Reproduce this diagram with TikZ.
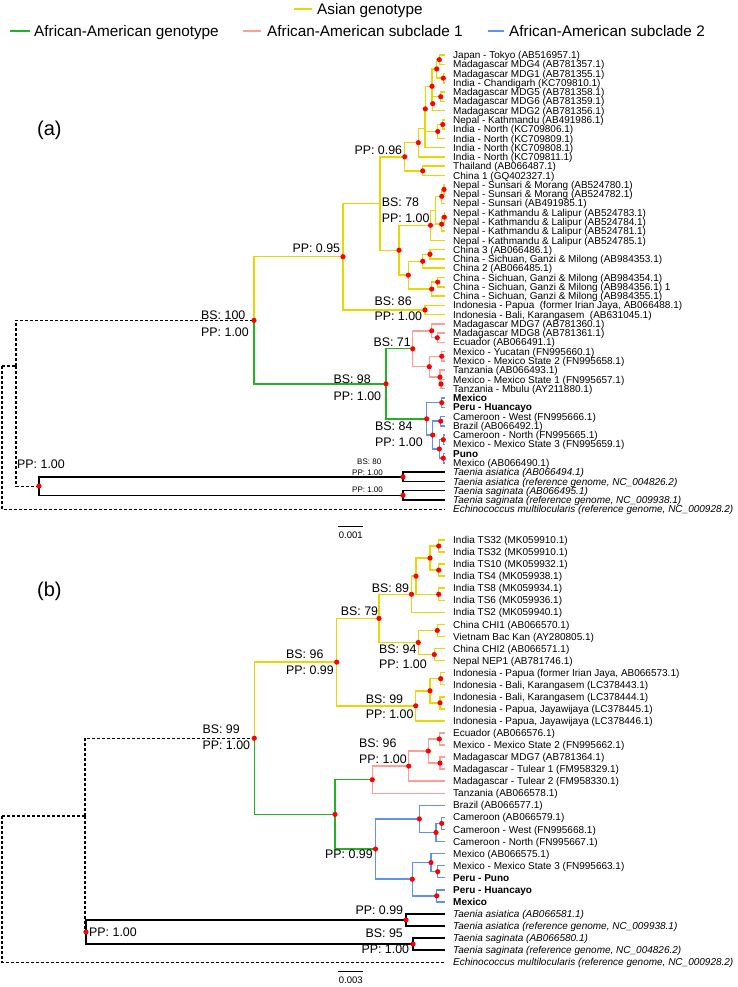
\documentclass[tikz,border=0pt]{standalone}
\usepackage{fontspec}
\setmainfont{Liberation Sans}
\definecolor{ycol}{RGB}{232,216,0}
\definecolor{gcol}{RGB}{34,178,34}
\definecolor{pcol}{RGB}{255,158,148}
\definecolor{bcol}{RGB}{95,145,240}
\newcommand\tipA[2]{\coordinate (ta#1) at (445,{ya(#1)}); \node[tiplab] (la#1) at (453,{ya(#1)}) {#2};}
\newcommand\tipB[2]{\coordinate (tb#1) at (445,{yb(#1)}); \node[tiplab] (lb#1) at (453,{yb(#1)}) {#2};}
\newcommand\nd[3]{\coordinate (#1) at (#2,{#3});}
\begin{document}
\begin{tikzpicture}[x=1pt,y=-1pt,
  declare function={ya(\i)=55+9.27*(\i-1); yb(\i)=540+12.06*(\i-1);},
  br/.style={line width=1.5pt},
  asia/.style={br,draw=ycol},
  afr/.style={br,draw=gcol},
  subA/.style={br,draw=pcol},
  subB/.style={br,draw=bcol},
  outg/.style={br,draw=black},
  dashedbr/.style={line width=1.1pt,draw=black,dash pattern=on 3pt off 2pt},
  tiplab/.style={anchor=west,inner sep=0pt,font=\fontsize{10}{12}\selectfont,text height=7.2pt,text depth=0pt},
  intlab/.style={anchor=west,inner sep=0pt,font=\fontsize{12.4}{14}\selectfont,text height=9pt,text depth=0pt},
  smlab/.style={anchor=west,inner sep=0pt,font=\fontsize{8}{9}\selectfont,text height=5.8pt,text depth=0pt},
  leglab/.style={anchor=west,inner sep=0pt,font=\fontsize{15.3}{17}\selectfont,text height=11pt,text depth=0pt},
  panlab/.style={anchor=west,inner sep=0pt,font=\fontsize{20}{22}\selectfont},
  sclab/.style={inner sep=0pt,font=\fontsize{9.5}{10}\selectfont},
  legline/.style={line width=2pt}]
\useasboundingbox (0,0) rectangle (737,987);
\fill[white] (0,0) rectangle (737,987);

% legend
\coordinate (ly1) at (294,9); \coordinate (ly2) at (312,9);
\draw[legline,ycol] (ly1) -- (ly2);
\node[leglab] (legA) at (317,9) {Asian genotype};
\coordinate (lg1) at (10,31); \coordinate (lg2) at (30,31);
\draw[legline,gcol] (lg1) -- (lg2);
\node[leglab] (legB) at (34,31) {African-American genotype};
\coordinate (lp1) at (243,31); \coordinate (lp2) at (261,31);
\draw[legline,pcol] (lp1) -- (lp2);
\node[leglab] (legC) at (267,31) {African-American subclade 1};
\coordinate (lb1) at (488,31); \coordinate (lb2) at (504,31);
\draw[legline,bcol] (lb1) -- (lb2);
\node[leglab] (legD) at (509,31) {African-American subclade 2};

\node[panlab] (pa) at (37,130) {(a)};
\node[panlab] (pb) at (37,591) {(b)};

% ================= panel (a) tips
\tipA{1}{Japan - Tokyo (AB516957.1)}
\tipA{2}{Madagascar MDG4 (AB781357.1)}
\tipA{3}{Madagascar MDG1 (AB781355.1)}
\tipA{4}{India - Chandigarh (KC709810.1)}
\tipA{5}{Madagascar MDG5 (AB781358.1)}
\tipA{6}{Madagascar MDG6 (AB781359.1)}
\tipA{7}{Madagascar MDG2 (AB781356.1)}
\tipA{8}{Nepal - Kathmandu (AB491986.1)}
\tipA{9}{India - North (KC709806.1)}
\tipA{10}{India - North (KC709809.1)}
\tipA{11}{India - North (KC709808.1)}
\tipA{12}{India - North (KC709811.1)}
\tipA{13}{Thailand (AB066487.1)}
\tipA{14}{China 1 (GQ402327.1)}
\tipA{15}{Nepal - Sunsari \& Morang (AB524780.1)}
\tipA{16}{Nepal - Sunsari \& Morang (AB524782.1)}
\tipA{17}{Nepal - Sunsari (AB491985.1)}
\tipA{18}{Nepal - Kathmandu \& Lalipur (AB524783.1)}
\tipA{19}{Nepal - Kathmandu \& Lalipur (AB524784.1)}
\tipA{20}{Nepal - Kathmandu \& Lalipur (AB524781.1)}
\tipA{21}{Nepal - Kathmandu \& Lalipur (AB524785.1)}
\tipA{22}{China 3 (AB066486.1)}
\tipA{23}{China - Sichuan, Ganzi \& Milong (AB984353.1)}
\tipA{24}{China 2 (AB066485.1)}
\tipA{25}{China - Sichuan, Ganzi \& Milong (AB984354.1)}
\tipA{26}{China - Sichuan, Ganzi \& Milong (AB984356.1) 1}
\tipA{27}{China - Sichuan, Ganzi \& Milong (AB984355.1)}
\tipA{28}{Indonesia - Papua\ \ (former Irian Jaya, AB066488.1)}
\tipA{29}{Indonesia - Bali, Karangasem\ \ (AB631045.1)}
\tipA{30}{Madagascar MDG7 (AB781360.1)}
\tipA{31}{Madagascar MDG8 (AB781361.1)}
\tipA{32}{Ecuador (AB066491.1)}
\tipA{33}{Mexico - Yucatan (FN995660.1)}
\tipA{34}{Mexico - Mexico State 2 (FN995658.1)}
\tipA{35}{Tanzania (AB066493.1)}
\tipA{36}{Mexico - Mexico State 1 (FN995657.1)}
\tipA{37}{Tanzania - Mbulu (AY211880.1)}
\tipA{38}{\textbf{Mexico}}
\tipA{39}{\textbf{Peru - Huancayo}}
\tipA{40}{Cameroon - West (FN995666.1)}
\tipA{41}{Brazil (AB066492.1)}
\tipA{42}{Cameroon - North (FN995665.1)}
\tipA{43}{Mexico - Mexico State 3 (FN995659.1)}
\tipA{44}{\textbf{Puno}}
\tipA{45}{Mexico (AB066490.1)}
\tipA{46}{\textit{Taenia asiatica (AB066494.1)}}
\tipA{47}{\textit{Taenia asiatica (reference genome, NC\_004826.2)}}
\tipA{48}{\textit{Taenia saginata (AB066495.1)}}
\tipA{49}{\textit{Taenia saginata (reference genome, NC\_009938.1)}}
\tipA{50}{\textit{Echinococcus multilocularis (reference genome, NC\_000928.2)}}

% panel (a) internal nodes
\nd{nA}{439.3}{ya(1.5)}
\nd{nC}{443.3}{ya(3.5)}
\nd{nB}{436.7}{ya(2.5)}
\nd{nD}{440.7}{ya(5.5)}
\nd{nE}{432.7}{ya(6.25)}
\nd{nF}{432}{ya(4.375)}
\nd{nG}{442.7}{ya(8.5)}
\nd{nH}{437.7}{ya(9.25)}
\nd{nI}{425.3}{ya(6.8125)}
\nd{nIb}{424.8}{ya(8.906)}
\nd{nJ}{418.3}{ya(10.453)}
\nd{nL}{422.7}{ya(13.5)}
\nd{nK}{404.7}{ya(11.977)}
\nd{nM}{444}{ya(15.5)}
\nd{nN}{441.7}{ya(16.25)}
\nd{nO}{444.3}{ya(18.5)}
\nd{nP}{441.7}{ya(19.25)}
\nd{nR}{435.5}{ya(17.75)}
\nd{nQ}{430.5}{ya(19.375)}
\nd{nS}{430}{ya(22.5)}
\nd{nT}{422.7}{ya(23.25)}
\nd{nU}{437.7}{ya(25.5)}
\nd{nV}{431.7}{ya(26.25)}
\nd{nW}{408.3}{ya(24.75)}
\nd{nY}{399}{ya(22.0625)}
\nd{nZ}{380}{ya(17.02)}
\nd{nAA}{425}{ya(28.5)}
\nd{nBB}{343}{ya(22.76)}
\nd{nTT}{254}{ya(29.63)}
\nd{nDD}{437.3}{ya(31.5)}
\nd{nCC}{431.7}{ya(30.75)}
\nd{nEE}{441.7}{ya(33.5)}
\nd{nGG}{441}{ya(36.5)}
\nd{nFF}{440}{ya(35.75)}
\nd{nHH}{429.3}{ya(34.625)}
\nd{nII}{412.7}{ya(32.6875)}
\nd{nJJ}{441.7}{ya(38.5)}
\nd{nKK}{440.7}{ya(40.5)}
\nd{nLL}{443.3}{ya(42.5)}
\nd{nRR}{443.3}{ya(44.5)}
\nd{nQQ}{439.3}{ya(43.5)}
\nd{nPP}{432.7}{ya(42)}
\nd{nOO}{426.7}{ya(40.25)}
\nd{nSS}{386}{ya(36.47)}
\nd{nXX}{403}{ya(46.5)}
\nd{nYY}{403}{ya(48.5)}
\nd{nUU}{39}{ya(47.5)}
\nd{nVV}{16}{366}
\nd{nRT}{2}{366}

% asian clade (a)
\draw[asia] (nA) |- (ta1); \draw[asia] (nA) |- (ta2);
\draw[asia] (nC) |- (ta3); \draw[asia] (nC) |- (ta4);
\draw[asia] (nB) |- (nA); \draw[asia] (nB) |- (nC);
\draw[asia] (nD) |- (ta5); \draw[asia] (nD) |- (ta6);
\draw[asia] (nE) |- (nD); \draw[asia] (nE) |- (ta7);
\draw[asia] (nF) |- (nB); \draw[asia] (nF) |- (nE);
\draw[asia] (nG) |- (ta8); \draw[asia] (nG) |- (ta9);
\draw[asia] (nH) |- (nG); \draw[asia] (nH) |- (ta10);
\draw[asia] (nI) |- (nF); \draw[asia] (nI) |- (nH);
\draw[asia] (nIb) |- (nI); \draw[asia] (nIb) |- (ta11);
\draw[asia] (nJ) |- (nIb); \draw[asia] (nJ) |- (ta12);
\draw[asia] (nL) |- (ta13); \draw[asia] (nL) |- (ta14);
\draw[asia] (nK) |- (nJ); \draw[asia] (nK) |- (nL);
\draw[asia] (nM) |- (ta15); \draw[asia] (nM) |- (ta16);
\draw[asia] (nN) |- (nM); \draw[asia] (nN) |- (ta17);
\draw[asia] (nO) |- (ta18); \draw[asia] (nO) |- (ta19);
\draw[asia] (nP) |- (nO); \draw[asia] (nP) |- (ta20);
\draw[asia] (nR) |- (nN); \draw[asia] (nR) |- (nP);
\draw[asia] (nQ) |- (nR); \draw[asia] (nQ) |- (ta21);
\draw[asia] (nS) |- (ta22); \draw[asia] (nS) |- (ta23);
\draw[asia] (nT) |- (nS); \draw[asia] (nT) |- (ta24);
\draw[asia] (nU) |- (ta25); \draw[asia] (nU) |- (ta26);
\draw[asia] (nV) |- (nU); \draw[asia] (nV) |- (ta27);
\draw[asia] (nW) |- (nT); \draw[asia] (nW) |- (nV);
\draw[asia] (nY) |- (nQ); \draw[asia] (nY) |- (nW);
\draw[asia] (nZ) |- (nK); \draw[asia] (nZ) |- (nY);
\draw[asia] (nAA) |- (ta28); \draw[asia] (nAA) |- (ta29);
\draw[asia] (nBB) |- (nZ); \draw[asia] (nBB) |- (nAA);
\draw[asia] (nTT) |- (nBB);
% african-american (a)
\draw[afr] (nTT) |- (nSS);
\draw[afr] (nSS) |- (nII); \draw[afr] (nSS) |- (nOO);
\draw[subA] (nDD) |- (ta31); \draw[subA] (nDD) |- (ta32);
\draw[subA] (nCC) |- (ta30); \draw[subA] (nCC) |- (nDD);
\draw[subA] (nEE) |- (ta33); \draw[subA] (nEE) |- (ta34);
\draw[subA] (nGG) |- (ta36); \draw[subA] (nGG) |- (ta37);
\draw[subA] (nFF) |- (ta35); \draw[subA] (nFF) |- (nGG);
\draw[subA] (nHH) |- (nEE); \draw[subA] (nHH) |- (nFF);
\draw[subA] (nII) |- (nCC); \draw[subA] (nII) |- (nHH);
\draw[subB] (nJJ) |- (ta38); \draw[subB] (nJJ) |- (ta39);
\draw[subB] (nKK) |- (ta40); \draw[subB] (nKK) |- (ta41);
\draw[subB] (nLL) |- (ta42); \draw[subB] (nLL) |- (ta43);
\draw[subB] (nRR) |- (ta44); \draw[subB] (nRR) |- (ta45);
\draw[subB] (nQQ) |- (nLL); \draw[subB] (nQQ) |- (nRR);
\draw[subB] (nPP) |- (nKK); \draw[subB] (nPP) |- (nQQ);
\draw[subB] (nOO) |- (nJJ); \draw[subB] (nOO) |- (nPP);
% outgroups (a)
\draw[outg] (nXX) |- (ta46); \draw[outg] (nXX) |- (ta47);
\draw[outg] (nYY) |- (ta48); \draw[outg] (nYY) |- (ta49);
\draw[outg] (nUU) |- (nXX); \draw[outg] (nUU) |- (nYY);
\draw[dashedbr] (nVV) |- (nTT); \draw[dashedbr] (nVV) |- (nUU);
\draw[dashedbr] (nRT) |- (nVV); \draw[dashedbr] (nRT) |- (ta50);

\foreach \n in {nA,nB,nC,nD,nE,nF,nG,nH,nI,nJ,nK,nL,nM,nN,nO,nP,nQ,nS,nT,nU,nV,nW,nY,nAA,nBB,nTT,nCC,nDD,nEE,nFF,nGG,nHH,nII,nJJ,nKK,nLL,nPP,nQQ,nRR,nOO,nSS,nXX,nYY,nUU}
  \fill[red] (\n) circle[radius=2.6pt];

% labels (a)
\node[intlab] (s1) at (354.3,150) {PP: 0.96};
\node[intlab] (s2) at (381.7,202.3) {BS: 78};
\node[intlab] (s3) at (381.7,218.3) {PP: 1.00};
\node[intlab] (s4) at (292.3,248.3) {PP: 0.95};
\node[intlab] (s5) at (374.3,300.7) {BS: 86};
\node[intlab] (s6) at (374.3,316) {PP: 1.00};
\node[intlab] (s7) at (201,315) {BS: 100};
\node[intlab] (s8) at (201,331.7) {PP: 1.00};
\node[intlab] (s9) at (373.3,341.7) {BS: 71};
\node[intlab] (s10) at (333.3,379.3) {BS: 98};
\node[intlab] (s11) at (333.3,395.7) {PP: 1.00};
\node[intlab] (s12) at (375,425.7) {BS: 84};
\node[intlab] (s13) at (375,442.3) {PP: 1.00};
\node[smlab] (s14) at (357,462) {BS: 80};
\node[smlab] (s15) at (352,473) {PP: 1.00};
\node[smlab] (s16) at (352,490) {PP: 1.00};
\node[intlab] (s17) at (17,464) {PP: 1.00};
\coordinate (sca1) at (338.3,526.3); \coordinate (sca2) at (363.3,526.3);
\draw[line width=1pt] (sca1) -- (sca2);
\node[sclab] (scat) at (350.8,535) {0.001};

% ================= panel (b) tips
\tipB{1}{India TS32 (MK059910.1)}
\tipB{2}{India TS32 (MK059910.1)}
\tipB{3}{India TS10 (MK059932.1)}
\tipB{4}{India TS4 (MK059938.1)}
\tipB{5}{India TS8 (MK059934.1)}
\tipB{6}{India TS6 (MK059936.1)}
\tipB{7}{India TS2 (MK059940.1)}
\tipB{8}{China CHI1 (AB066570.1)}
\tipB{9}{Vietnam Bac Kan (AY280805.1)}
\tipB{10}{China CHI2 (AB066571.1)}
\tipB{11}{Nepal NEP1 (AB781746.1)}
\tipB{12}{Indonesia - Papua (former Irian Jaya, AB066573.1)}
\tipB{13}{Indonesia - Bali, Karangasem (LC378443.1)}
\tipB{14}{Indonesia - Bali, Karangasem (LC378444.1)}
\tipB{15}{Indonesia - Papua, Jayawijaya (LC378445.1)}
\tipB{16}{Indonesia - Papua, Jayawijaya (LC378446.1)}
\tipB{17}{Ecuador (AB066576.1)}
\tipB{18}{Mexico - Mexico State 2 (FN995662.1)}
\tipB{19}{Madagascar MDG7 (AB781364.1)}
\tipB{20}{Madagascar - Tulear 1 (FM958329.1)}
\tipB{21}{Madagascar - Tulear 2 (FM958330.1)}
\tipB{22}{Tanzania (AB066578.1)}
\tipB{23}{Brazil (AB066577.1)}
\tipB{24}{Cameroon (AB066579.1)}
\tipB{25}{Cameroon - West (FN995668.1)}
\tipB{26}{Cameroon - North (FN995667.1)}
\tipB{27}{Mexico (AB066575.1)}
\tipB{28}{Mexico - Mexico State 3 (FN995663.1)}
\tipB{29}{\textbf{Peru - Puno}}
\tipB{30}{\textbf{Peru - Huancayo}}
\tipB{31}{\textbf{Mexico}}
\tipB{32}{\textit{Taenia asiatica (AB066581.1)}}
\tipB{33}{\textit{Taenia asiatica (reference genome, NC\_009938.1)}}
\tipB{34}{\textit{Taenia saginata (AB066580.1)}}
\tipB{35}{\textit{Taenia saginata (reference genome, NC\_004826.2)}}
\tipB{36}{\textit{Echinococcus multilocularis (reference genome, NC\_000928.2)}}

% panel (b) internal nodes
\nd{q1}{438.7}{yb(1.5)}
\nd{q2}{438.7}{yb(3.5)}
\nd{q3}{430}{yb(2.5)}
\nd{q4}{438.7}{yb(5.5)}
\nd{q5}{416}{yb(4)}
\nd{q6}{411.5}{yb(5.5)}
\nd{q9}{437.3}{yb(8.5)}
\nd{q10}{434.3}{yb(10.5)}
\nd{q8}{418.3}{yb(9.5)}
\nd{q7}{379}{yb(7.5)}
\nd{q14}{440.7}{yb(12.5)}
\nd{q15}{440}{yb(14.5)}
\nd{q13}{430}{yb(13.5)}
\nd{q12}{415.7}{yb(14.75)}
\nd{q11}{336.7}{yb(11.125)}
\nd{qTT}{254.3}{yb(17.4375)}
\nd{qSS}{335}{yb(23.75)}
\nd{qII}{372.3}{yb(20.875)}
\nd{q16}{408.7}{yb(19.75)}
\nd{q17}{428.3}{yb(18.5)}
\nd{q18}{439.3}{yb(17.5)}
\nd{q19}{440}{yb(19.5)}
\nd{qOO}{375.5}{yb(26.625)}
\nd{q20}{419.3}{yb(24.125)}
\nd{q21}{436}{yb(25.25)}
\nd{q22}{441.7}{yb(24.5)}
\nd{q26}{412.3}{yb(29.125)}
\nd{q23}{431}{yb(27.75)}
\nd{q24}{437.7}{yb(28.5)}
\nd{q25}{436.7}{yb(30.5)}
\nd{qXX}{406}{yb(32.5)}
\nd{qYY}{413}{yb(34.5)}
\nd{qUU}{86}{yb(33.5)}
\nd{qVV}{85}{816}
\nd{qRT}{2}{816}

\draw[asia] (q1) |- (tb1); \draw[asia] (q1) |- (tb2);
\draw[asia] (q2) |- (tb3); \draw[asia] (q2) |- (tb4);
\draw[asia] (q3) |- (q1); \draw[asia] (q3) |- (q2);
\draw[asia] (q4) |- (tb5); \draw[asia] (q4) |- (tb6);
\draw[asia] (q5) |- (q3); \draw[asia] (q5) |- (q4);
\draw[asia] (q6) |- (q5); \draw[asia] (q6) |- (tb7);
\draw[asia] (q9) |- (tb8); \draw[asia] (q9) |- (tb9);
\draw[asia] (q10) |- (tb10); \draw[asia] (q10) |- (tb11);
\draw[asia] (q8) |- (q9); \draw[asia] (q8) |- (q10);
\draw[asia] (q7) |- (q6); \draw[asia] (q7) |- (q8);
\draw[asia] (q14) |- (tb12); \draw[asia] (q14) |- (tb13);
\draw[asia] (q15) |- (tb14); \draw[asia] (q15) |- (tb15);
\draw[asia] (q13) |- (q14); \draw[asia] (q13) |- (q15);
\draw[asia] (q12) |- (q13); \draw[asia] (q12) |- (tb16);
\draw[asia] (q11) |- (q7); \draw[asia] (q11) |- (q12);
\draw[asia] (qTT) |- (q11);
\draw[afr] (qTT) |- (qSS);
\draw[afr] (qSS) |- (qII); \draw[afr] (qSS) |- (qOO);
\draw[subA] (q18) |- (tb17); \draw[subA] (q18) |- (tb18);
\draw[subA] (q19) |- (tb19); \draw[subA] (q19) |- (tb20);
\draw[subA] (q17) |- (q18); \draw[subA] (q17) |- (q19);
\draw[subA] (q16) |- (q17); \draw[subA] (q16) |- (tb21);
\draw[subA] (qII) |- (q16); \draw[subA] (qII) |- (tb22);
\draw[subB] (q22) |- (tb24); \draw[subB] (q22) |- (tb25);
\draw[subB] (q21) |- (q22); \draw[subB] (q21) |- (tb26);
\draw[subB] (q20) |- (tb23); \draw[subB] (q20) |- (q21);
\draw[subB] (q24) |- (tb28); \draw[subB] (q24) |- (tb29);
\draw[subB] (q23) |- (tb27); \draw[subB] (q23) |- (q24);
\draw[subB] (q25) |- (tb30); \draw[subB] (q25) |- (tb31);
\draw[subB] (q26) |- (q23); \draw[subB] (q26) |- (q25);
\draw[subB] (qOO) |- (q20); \draw[subB] (qOO) |- (q26);
\draw[outg] (qXX) |- (tb32); \draw[outg] (qXX) |- (tb33);
\draw[outg] (qYY) |- (tb34); \draw[outg] (qYY) |- (tb35);
\draw[outg] (qUU) |- (qXX); \draw[outg] (qUU) |- (qYY);
\draw[dashedbr] (qVV) |- (qTT); \draw[dashedbr] (qVV) |- (qUU);
\draw[dashedbr] (qRT) |- (qVV); \draw[dashedbr] (qRT) |- (tb36);

\foreach \n in {q1,q2,q3,q4,q5,q6,q7,q8,q9,q10,q11,q12,q13,q14,q15,q16,q17,q18,q19,q20,q21,q22,q23,q24,q25,q26,qTT,qSS,qII,qOO,qXX,qYY,qUU}
  \fill[red] (\n) circle[radius=2.6pt];

\node[intlab] (t1) at (371.7,587.7) {BS: 89};
\node[intlab] (t2) at (340.7,610.7) {BS: 79};
\node[intlab] (t3) at (379,649) {BS: 94};
\node[intlab] (t4) at (379,664.3) {PP: 1.00};
\node[intlab] (t5) at (286,654) {BS: 96};
\node[intlab] (t6) at (286,670) {PP: 0.99};
\node[intlab] (t7) at (365.7,699) {BS: 99};
\node[intlab] (t8) at (365.7,714.3) {PP: 1.00};
\node[intlab] (t9) at (202.3,729.3) {BS: 99};
\node[intlab] (t10) at (202.3,745) {PP: 1.00};
\node[intlab] (t11) at (359,742.7) {BS: 96};
\node[intlab] (t12) at (359,759) {PP: 1.00};
\node[intlab] (t13) at (325,854.3) {PP: 0.99};
\node[intlab,anchor=east] (t14) at (403.3,910) {PP: 0.99};
\node[intlab,anchor=east] (t15) at (403,933.3) {BS: 95};
\node[intlab,anchor=east] (t16) at (409.3,949) {PP: 1.00};
\node[intlab] (t17) at (89,932) {PP: 1.00};
\coordinate (scb1) at (338.3,971); \coordinate (scb2) at (363.3,971);
\draw[line width=1pt] (scb1) -- (scb2);
\node[sclab] (scbt) at (350.8,980) {0.003};
\end{tikzpicture}
\end{document}
